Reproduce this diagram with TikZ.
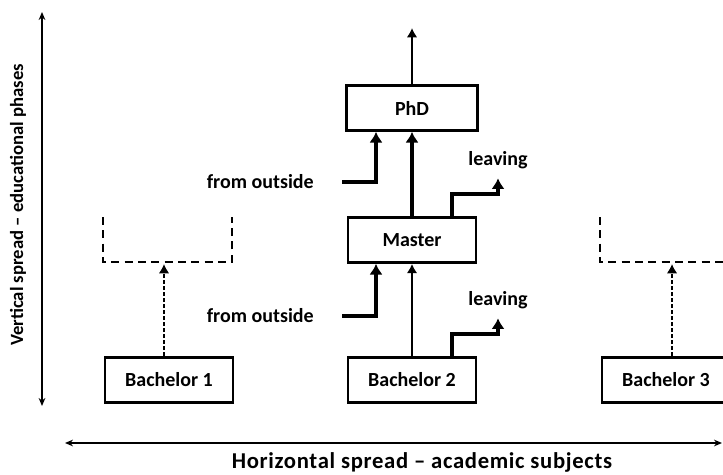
\documentclass[tikz,border=0pt]{standalone}
\usepackage{fontspec}
\setmainfont{Carlito}
\usepackage{tikz}
\usetikzlibrary{arrows.meta,positioning}
\tikzset{
  axis/.style={{Stealth[length=6pt,width=5pt]}-{Stealth[length=6pt,width=5pt]},line width=1.4pt},
  phase/.style={draw,line width=1.8pt,minimum width=96pt,minimum height=34pt,
    font=\bfseries\fontsize{15}{17}\selectfont},
  side/.style={font=\bfseries\fontsize{15}{17}\selectfont},
  slot/.style={line width=1.5pt,dash pattern=on 6pt off 4pt},
  dashflow/.style={-{Latex[length=7pt,width=8pt]},line width=1.6pt,dash pattern=on 3pt off 1.5pt},
  every node/.style={inner sep=3pt}
}
\tikzstyle{flow} = [line width=1.6pt,-{Latex[length=7pt,width=8pt]}]
\tikzstyle{bigflow} = [line width=2.8pt,-{Latex[length=8pt,width=10pt]}]

\begin{document}
\begin{tikzpicture}[x=0.75pt,y=-0.75pt]
  \clip (0,0) rectangle (723,474);
  % axes
  \coordinate (vtop) at (42,12);
  \coordinate (vbot) at (42,406);
  \draw[axis] (vbot) -- (vtop);
  \node[side,font=\bfseries\fontsize{14}{16}\selectfont,rotate=90] (vlabel) at (18,205)
    {Vertical spread -- educational phases};
  \coordinate (hleft) at (65,443);
  \coordinate (hright) at (722,443);
  \draw[axis] (hleft) -- (hright);
  \node[font=\bfseries\fontsize{17}{19}\selectfont\addfontfeature{LetterSpace=3},anchor=base]
    (hlabel) at (422,468) {Horizontal spread -- academic subjects};
  % phases
  \node[phase] (bach1) at (169,380) {Bachelor 1};
  \node[phase] (bach2) at (412,380) {Bachelor 2};
  \node[phase] (bach3) at (666,380) {Bachelor 3};
  \node[phase] (master) at (412,240) {Master};
  \node[phase,minimum width=98pt] (phd) at (412,108) {PhD};
  % empty slots above the other subjects
  \draw[slot] (103,217) -- (103,262) -- (232,262) -- (232,217);
  \draw[slot] (600,217) -- (600,262) -- (740,262);
  \coordinate (slot1) at (164,264);
  \coordinate (slot3) at (672,264);
  \draw[dashflow] (slot1 |- bach1.north) -- (slot1);
  \draw[dashflow] (slot3 |- bach3.north) -- (slot3);
  % main path
  \coordinate (beyond) at (412,28);
  \draw[flow] (bach2) -- (master);
  \draw[bigflow] (master) -- (phd);
  \draw[flow] (phd) -- (beyond);
  % from outside
  \node[side,anchor=east] (out1) at (318,316) {from outside};
  \node[side,anchor=east] (out2) at (318,182) {from outside};
  \draw[bigflow] ([xshift=18pt]out1.east) -| ([xshift=-27pt]master.south);
  \draw[bigflow] ([xshift=18pt]out2.east) -| ([xshift=-27pt]phd.south);
  % leaving
  \node[side] (leave1) at (498,300) {leaving};
  \node[side] (leave2) at (498,160) {leaving};
  \draw[bigflow] ([xshift=30pt]bach2.north) -- ++(0,-22) -| ([yshift=-4pt]leave1.south);
  \draw[bigflow] ([xshift=30pt]master.north) -- ++(0,-22) -| ([yshift=-4pt]leave2.south);
\end{tikzpicture}
\end{document}
